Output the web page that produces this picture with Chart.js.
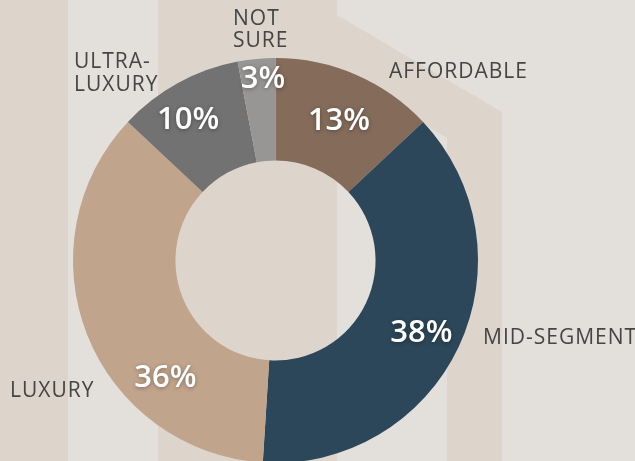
<!DOCTYPE html>
<html>
<head>
<meta charset="utf-8">
<script src="https://cdn.jsdelivr.net/npm/chart.js@4.4.1/dist/chart.umd.min.js"></script>
<style>
html,body{margin:0;padding:0;overflow:hidden;background:#e3e0dc}
#wrap{position:relative;width:635px;height:461px;overflow:hidden}
canvas{display:block}
</style>
</head>
<body>
<div id="wrap"><canvas id="ringChart" width="635" height="472"></canvas></div>
<script>
const segments=['AFFORDABLE','MID-SEGMENT','LUXURY','ULTRA-LUXURY','NOT SURE'];
const shares=[13,38,36,10,3];
const sliceColors=['#846b5a','#2c4759','#c1a48c','#737272','#979695'];

// category names as they are broken into lines on the picture
const nameLines=[['AFFORDABLE'],['MID-SEGMENT'],['LUXURY'],['ULTRA-','LUXURY'],['NOT','SURE']];
// left edge / first baseline of each name block
const namePos=[[389,78],[483,344],[10,397],[74,68],[233,24.5]];
// percent labels: angle from top (deg) and distance as share of outer radius
const pctPos=[[24.1,0.768],[115.8,0.80],[223.6,0.788],[328.4,0.824],[356.1,0.909]];

const backdrop={
  id:'backdrop',
  beforeDraw(chart){
    const c=chart.ctx;
    c.save();
    c.fillStyle='#e3e0dc';
    c.fillRect(0,0,chart.width,chart.height);
    c.fillStyle='#ddd5cc';
    c.fillRect(0,0,68,chart.height);
    c.beginPath();
    c.moveTo(158,0);c.lineTo(337,0);c.lineTo(337,15);c.lineTo(502,112);
    c.lineTo(502,chart.height);c.lineTo(447,chart.height);c.lineTo(447,138);
    c.lineTo(337,73);c.lineTo(337,chart.height);c.lineTo(158,chart.height);
    c.closePath();
    c.fill();
    c.restore();
  }
};

const ringLabels={
  id:'ringLabels',
  afterDraw(chart){
    const c=chart.ctx;
    const arcs=chart.getDatasetMeta(0).data;
    c.save();
    // category names
    c.font='400 21px "Open Sans"';
    c.letterSpacing='1px';
    c.fillStyle='#454545';
    c.textAlign='left';
    c.textBaseline='alphabetic';
    nameLines.forEach((lines,i)=>{
      lines.forEach((t,j)=>c.fillText(t,namePos[i][0],namePos[i][1]+j*22.5));
    });
    // percentages
    c.letterSpacing='0px';
    c.font='600 31px "Open Sans"';
    c.fillStyle='#ffffff';
    c.textAlign='center';
    c.shadowColor='rgba(0,0,0,0.35)';
    c.shadowBlur=4;
    c.shadowOffsetY=1;
    arcs.forEach((arc,i)=>{
      const a=pctPos[i][0]*Math.PI/180;
      const r=arc.outerRadius*pctPos[i][1];
      const x=arc.x+Math.sin(a)*r;
      const y=arc.y-Math.cos(a)*r;
      c.fillText(shares[i]+'%',x,y+31*0.357);
    });
    c.restore();
  }
};

new Chart(document.getElementById('ringChart'),{
  type:'doughnut',
  data:{
    labels:segments,
    datasets:[{
      data:shares,
      backgroundColor:sliceColors,
      borderWidth:0,
      hoverOffset:0
    }]
  },
  options:{
    responsive:false,
    animation:false,
    cutout:'49.4%',
    layout:{padding:{left:73,right:157,top:58,bottom:9}},
    plugins:{legend:{display:false},tooltip:{enabled:false}}
  },
  plugins:[backdrop,ringLabels]
});
</script>
</body>
</html>
